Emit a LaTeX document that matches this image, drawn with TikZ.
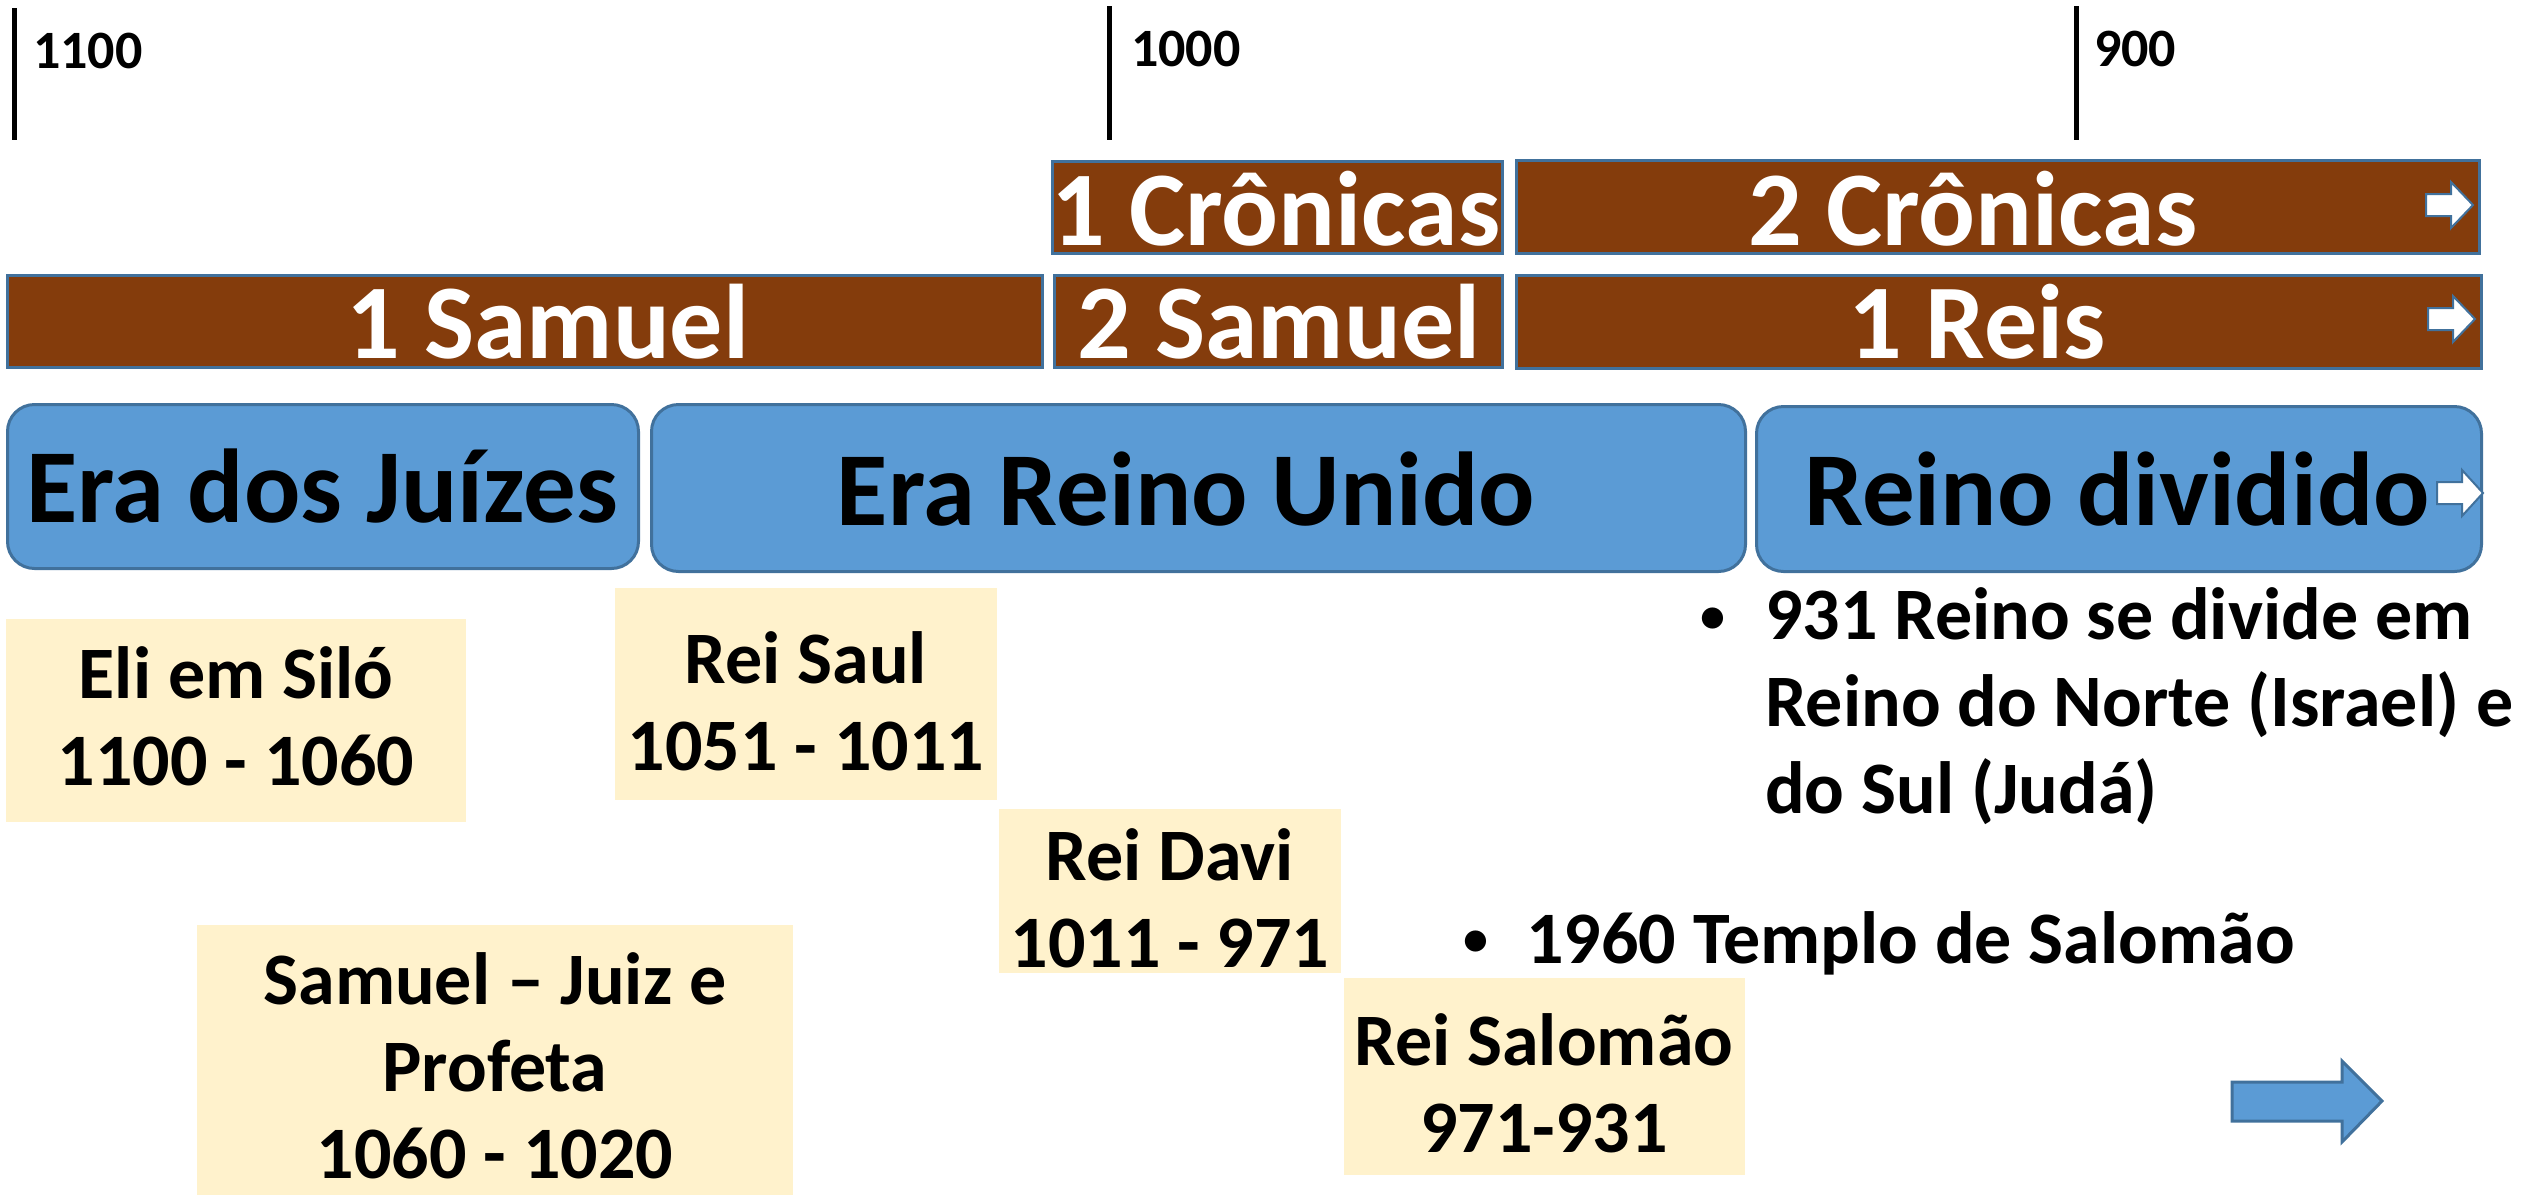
\documentclass[tikz,border=0pt]{standalone}
\usepackage{fontspec}
\setmainfont{Carlito}
\definecolor{brownbar}{HTML}{843C0C}
\definecolor{bord}{HTML}{41719C}
\definecolor{erablue}{HTML}{5B9BD5}
\definecolor{yel}{HTML}{FFF2CC}
\begin{document}
\begin{tikzpicture}[x=1pt,y=-1pt,
  tickline/.style={line width=5pt,black},
  ticklbl/.style={font=\bfseries\fontsize{54}{62}\selectfont,anchor=west,inner sep=0},
  bookbar/.style={draw=bord,line width=2.5pt,fill=brownbar,anchor=north west,inner sep=0},
  booktxt/.style={text=white,font=\bfseries\fontsize{106}{120}\selectfont,inner sep=0},
  erabox/.style={draw=bord,line width=3pt,fill=erablue,rounded corners=27pt,anchor=north west,inner sep=0},
  eratxt/.style={font=\bfseries\fontsize{105}{120}\selectfont,inner sep=0},
  ybox/.style={fill=yel,anchor=north west,inner sep=0},
  ytxt/.style={font=\bfseries\fontsize{74}{87}\selectfont,align=center,inner sep=0},
  btxt/.style={font=\bfseries\fontsize{74}{87}\selectfont,align=left,inner sep=0,anchor=west},
  bdot/.style={font=\bfseries\fontsize{50}{60}\selectfont,inner sep=0},
  smarrow/.style={draw=bord,line width=2pt,fill=white,line join=miter},
  bigarrow/.style={draw=bord,line width=3pt,fill=erablue,line join=miter}]
\useasboundingbox (0,0) rectangle (2527,1195);

% time ticks
\draw[tickline] (14,8) -- (14,140);
\node[ticklbl] (t1100) at (33,51) {1100};
\draw[tickline] (1109,6) -- (1109,140);
\node[ticklbl] (t1000) at (1131,49) {1000};
\draw[tickline] (2076,6) -- (2076,140);
\node[ticklbl] (t900) at (2094,49) {900};

% book bars
\node[bookbar,minimum width=450,minimum height=92] (cr1) at (1051,160) {};
\node[booktxt] (cr1t) at (1276,209) {1 Crônicas};
\node[bookbar,minimum width=963,minimum height=93] (cr2) at (1515,159) {};
\node[booktxt] (cr2t) at (1973,209) {2 Crônicas};
\node[bookbar,minimum width=1035,minimum height=92] (sa1) at (6,274) {};
\node[booktxt] (sa1t) at (548,322) {1 Samuel};
\node[bookbar,minimum width=448,minimum height=92] (sa2) at (1053,274) {};
\node[booktxt] (sa2t) at (1279,322) {2 Samuel};
\node[bookbar,minimum width=965,minimum height=93] (re1) at (1515,274) {};
\node[booktxt] (re1t) at (1977,322) {1 Reis};

\draw[smarrow] (2426,194) -- (2451,194) -- (2451,182) -- (2473,205) -- (2451,228) -- (2451,216) -- (2426,216) -- cycle;
\draw[smarrow] (2428,308) -- (2453,308) -- (2453,296) -- (2475,319) -- (2453,342) -- (2453,330) -- (2428,330) -- cycle;

% eras
\node[erabox,minimum width=631,minimum height=164] (eraj) at (6,403) {};
\node[eratxt] (erajt) at (322,486) {Era dos Juízes};
\node[erabox,minimum width=1094,minimum height=167] (erau) at (650,403) {};
\node[eratxt] (eraut) at (1186,489) {Era Reino Unido};
\node[erabox,minimum width=725,minimum height=165] (erad) at (1755,405) {};
\node[eratxt] (eradt) at (2117,489) {Reino dividido};
\draw[smarrow] (2437,482) -- (2462,482) -- (2462,470) -- (2483,493) -- (2462,516) -- (2462,504) -- (2437,504) -- cycle;

% yellow boxes
\node[ybox,minimum width=460,minimum height=203] (eli) at (6,619) {};
\node[ytxt] (elit) at (236,716) {Eli em Siló\\1100 - 1060};
\node[ybox,minimum width=382,minimum height=212] (saul) at (615,588) {};
\node[ytxt] (sault) at (806,701) {Rei Saul\\1051 - 1011};
\node[ybox,minimum width=342,minimum height=164] (davi) at (999,809) {};
\node[ytxt] (davit) at (1170,898) {Rei Davi\\1011 - 971};
\node[ybox,minimum width=596,minimum height=270] (samj) at (197,925) {};
\node[ytxt] (samjt) at (495,1066) {Samuel – Juiz e\\Profeta\\1060 - 1020};
\node[ybox,minimum width=401,minimum height=197] (salo) at (1344,978) {};
\node[ytxt] (salot) at (1544,1083) {Rei Salomão\\971-931};

% bullets
\node[bdot] (b1) at (1713,620) {•};
\node[btxt] (b1t) at (1765,706) {931 Reino se divide em\\Reino do Norte (Israel) e\\do Sul (Judá)};
\node[bdot] (b2) at (1476,943) {•};
\node[btxt] (b2t) at (1526,943) {1960 Templo de Salomão};

% big arrow
\draw[bigarrow] (2232,1082) -- (2342,1082) -- (2342,1061) -- (2382,1101) -- (2342,1142) -- (2342,1121) -- (2232,1121) -- cycle;
\end{tikzpicture}
\end{document}
